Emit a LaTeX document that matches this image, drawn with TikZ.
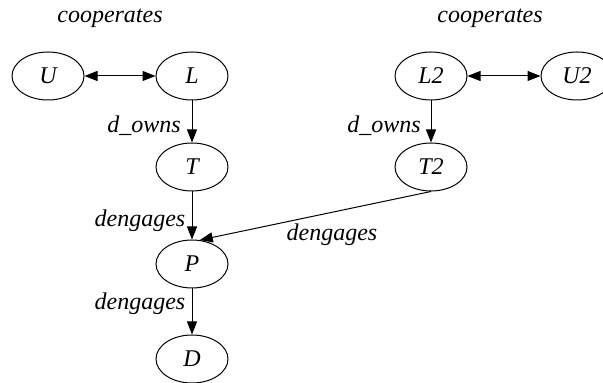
\documentclass[tikz,border=0pt]{standalone}
\usepackage{fontspec}
\setmainfont{Liberation Serif}
\usetikzlibrary{arrows.meta,shapes.geometric}
\begin{document}
\begin{tikzpicture}[x=0.5pt,y=-0.5pt,line width=0.5pt,
  ent/.style={draw,ellipse,minimum width=36pt,minimum height=24pt,inner sep=0pt,
    font=\rmfamily\fontsize{12}{14}\selectfont\itshape},
  rel/.style={inner sep=0pt,font=\rmfamily\fontsize{12}{14}\selectfont\itshape},
  hd/.tip={Triangle[length=6.5pt,width=5pt]}]
  \useasboundingbox (0,0) rectangle (603,383);
  % entities
  \node[ent] (U)  at (48,76)   {U};
  \node[ent] (L)  at (192,76)  {L};
  \node[ent] (L2) at (431,76)  {L2};
  \node[ent] (U2) at (577,76)  {U2};
  \node[ent] (T)  at (192,167) {T};
  \node[ent] (T2) at (431,167) {T2};
  \node[ent] (P)  at (192,264) {P};
  \node[ent] (D)  at (192,359) {D};
  % relations
  \draw[hd-hd] (U) -- (L);
  \draw[hd-hd] (L2) -- (U2);
  \draw[-hd] (L) -- (T);
  \draw[-hd] (L2) -- (T2);
  \draw[-hd] (T) -- (P);
  \draw[-hd] (T2.south) -- (P.72);
  \draw[-hd] (P) -- (D);
  % labels
  \node[rel] (coopA) at (110,18)  {cooperates};
  \node[rel] (coopB) at (490,18)  {cooperates};
  \node[rel] (ownA)  at (144,126) {d\_owns};
  \node[rel] (ownB)  at (384,126) {d\_owns};
  \node[rel] (engA)  at (140,221) {dengages};
  \node[rel] (engB)  at (332,235) {dengages};
  \node[rel] (engC)  at (140,304) {dengages};
\end{tikzpicture}
\end{document}
